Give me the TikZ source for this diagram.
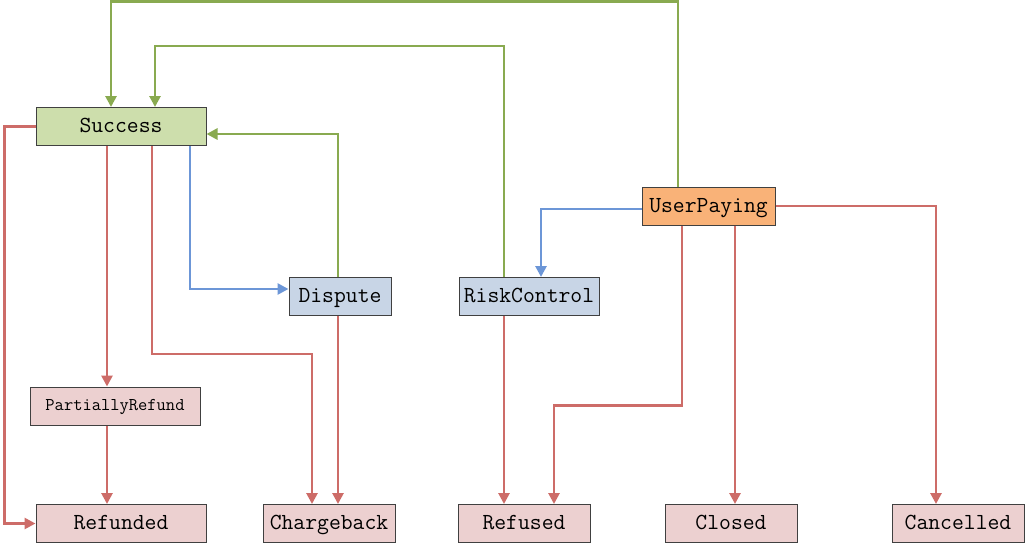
\documentclass[tikz,border=0pt]{standalone}
\usepackage{tikz}
\usepackage{xcolor}
\usetikzlibrary{arrows.meta,positioning,calc}

\definecolor{okgreen}{RGB}{205,222,172}
\definecolor{midblue}{RGB}{200,213,230}
\definecolor{payorange}{RGB}{249,178,120}
\definecolor{endpink}{RGB}{236,208,208}
\definecolor{linered}{RGB}{205,108,104}
\definecolor{linegreen}{RGB}{137,170,80}
\definecolor{lineblue}{RGB}{108,150,215}

\begin{document}
\begin{tikzpicture}[
    x=1pt, y=-1pt,
    box/.style={rectangle, draw=black!75, line width=1pt, minimum height=38pt, inner sep=0pt, text height=16pt, text depth=4pt, font=\ttfamily\fontsize{23}{26}\selectfont},
    flow/.style={line width=2.7pt, -{Triangle[length=11pt,width=11pt]}}
]
\useasboundingbox (0,0) rectangle (1025,543);

% states
\node[box, fill=okgreen, minimum width=170pt] (success) at (121,126.5) {Success};
\node[box, fill=midblue, minimum width=102pt] (dispute) at (340,296.5) {Dispute};
\node[box, fill=midblue, minimum width=140pt] (risk) at (529,296.5) {RiskControl};
\node[box, fill=payorange, minimum width=133pt] (paying) at (708.5,206) {UserPaying};
\node[box, fill=endpink, minimum width=170pt, text height=12pt, text depth=3pt, font=\ttfamily\fontsize{18}{20}\selectfont] (partial) at (115,406) {PartiallyRefund};

% final states
\node[box, fill=endpink, minimum width=170pt] (refunded) at (121,523.5) {Refunded};
\node[box, fill=endpink, minimum width=132pt] (charge) at (329,523.5) {Chargeback};
\node[box, fill=endpink, minimum width=132pt] (refused) at (524,523.5) {Refused};
\node[box, fill=endpink, minimum width=132pt] (closed) at (731,523.5) {Closed};
\node[box, fill=endpink, minimum width=132pt] (cancel) at (958,523.5) {Cancelled};

% back to success
\draw[flow, linegreen] ([xshift=-30.5pt]paying.north) -- ++(0,-185) -| ([xshift=-10pt]success.north);
\draw[flow, linegreen] ([xshift=-25pt]risk.north) -- ++(0,-231) -| ([xshift=34pt]success.north);
\draw[flow, linegreen] ([xshift=-2pt]dispute.north) |- ([yshift=-7.5pt]success.east);

% into dispute / risk control
\draw[flow, lineblue] ([xshift=69pt]success.south) |- ([yshift=7.5pt]dispute.west);
\draw[flow, lineblue] ([yshift=-3pt]paying.west) -| ([xshift=12pt]risk.north);

% success to refunds and chargeback
\draw[flow, linered] (success.west) -- ++(-31,0) |- (refunded.west);
\draw[flow, linered] ([xshift=-14pt]success.south) -- ([xshift=-8pt]partial.north);
\draw[flow, linered] ([xshift=-8pt]partial.south) -- ([xshift=-14pt]refunded.north);
\draw[flow, linered] ([xshift=31pt]success.south) -- ++(0,208) -| ([xshift=-17pt]charge.north);
\draw[flow, linered] ([xshift=-2pt]dispute.south) -- ([xshift=9pt]charge.north);

% paying and risk control to final states
\draw[flow, linered] ([xshift=-25pt]risk.south) -- ([xshift=-20pt]refused.north);
\draw[flow, linered] ([xshift=-26.5pt]paying.south) -- ++(0,180) -| ([xshift=30pt]refused.north);
\draw[flow, linered] ([xshift=26.5pt]paying.south) -- ([xshift=4pt]closed.north);
\draw[flow, linered] (paying.east) -| ([xshift=-22pt]cancel.north);

\end{tikzpicture}
\end{document}
